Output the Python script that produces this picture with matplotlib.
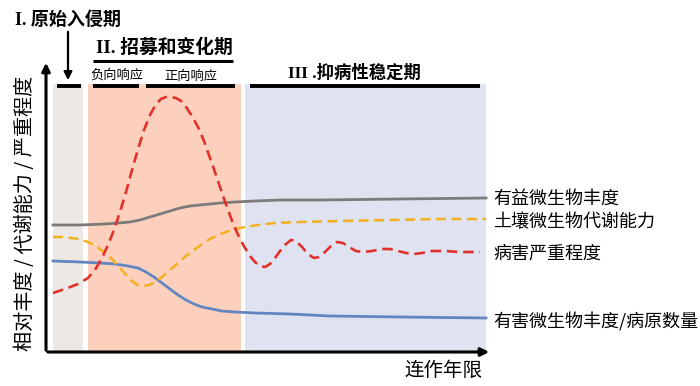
import numpy as np
import matplotlib.pyplot as plt

plt.rcParams['font.family'] = ['Noto Sans CJK SC', 'DejaVu Sans']

# curve readings (x, y in picture units: x to the right, y downward)
grey_x = [53, 80, 105, 118, 130, 140, 150, 160, 170, 180, 190, 200, 210, 220, 235,
          255, 280, 320, 400, 486]
grey_y = [225, 225, 224, 223, 222, 220, 217, 214, 211, 208, 206, 205, 204, 203, 202,
          201, 200, 200, 199, 198]

orange_x = [53, 65, 78, 88, 96, 104, 112, 120, 127, 133, 138, 143, 149, 155, 162,
            170, 178, 186, 194, 202, 210, 218, 226, 235, 245, 258, 275, 300, 340,
            390, 440, 486]
orange_y = [237, 237, 239, 242, 246, 252, 259, 268, 276, 282, 285, 286, 285, 282, 277,
            270, 263, 256, 250, 244, 239, 235, 232, 229, 227, 225, 223, 222, 221,
            220, 219, 219]

red_x = [53, 65, 78, 88, 95, 102, 108, 114, 120, 126, 132, 138, 144, 150, 156,
         161, 166, 171, 176, 181, 186, 192, 198, 204, 210, 216, 222, 228, 234, 240,
         245, 250, 255, 260, 265, 270, 275, 280, 286, 291, 296, 302, 308, 314,
         319, 325, 331, 337, 343, 349, 356, 363, 372, 382, 390, 398, 406, 414,
         422, 432, 445, 460, 480]
red_y = [293, 289, 284, 278, 270, 258, 245, 230, 212, 192, 170, 149, 130, 115, 104,
         99, 97, 97, 98, 101, 107, 116, 127, 141, 158, 175, 193, 210, 226, 239,
         248, 256, 262, 266, 267, 264, 258, 251, 244, 240, 241, 247, 254, 258,
         257, 252, 246, 242, 243, 247, 251, 252, 251, 249, 249, 251, 253, 254,
         253, 251, 251, 252, 252]

blue_x = [53, 80, 100, 115, 128, 138, 146, 154, 162, 170, 178, 186, 194, 202, 212,
          222, 235, 255, 290, 330, 400, 486]
blue_y = [261, 262, 263, 264, 266, 268, 272, 277, 283, 289, 295, 300, 304, 307, 309,
          311, 312, 313, 314, 316, 317, 318]

# stage spans (x start, width)
stage_x = [53, 88, 245]
stage_w = [30, 153, 241]
stage_colors = ['#ece8e4', '#fcd0bd', '#dfe2f0']

# black bars above stages
bar_x0 = [57, 93, 146, 250]
bar_x1 = [81, 139, 235, 480]

labels_right = ['有益微生物丰度', '土壤微生物代谢能力', '病害严重程度', '有害微生物丰度/病原数量']
labels_y = [199, 222, 253, 322]

fig = plt.figure(figsize=(7, 3.86), dpi=100)
ax = fig.add_axes([0, 0, 1, 1])
ax.set_xlim(0, 700)
ax.set_ylim(386, 0)
ax.axis('off')

ax.bar(stage_x, [352 - 84] * 3, width=stage_w, bottom=84, align='edge',
       color=stage_colors, zorder=1)

ax.plot(grey_x, grey_y, color='#7d7b7a', lw=2, zorder=3)
ax.plot(blue_x, blue_y, color='#6385c2', lw=2, zorder=3)
ax.plot(orange_x, orange_y, color='#f3b021', lw=1.8, dashes=(4, 2.2), zorder=3)
ax.plot(red_x, red_y, color='#e2302a', lw=1.9, dashes=(4, 2.2), zorder=4)

# axes arrows
ax.annotate('', xy=(46, 60), xytext=(46, 353),
            arrowprops=dict(arrowstyle='-|>', lw=2.2, color='black', mutation_scale=12))
ax.annotate('', xy=(492, 352), xytext=(45, 352),
            arrowprops=dict(arrowstyle='-|>', lw=2.2, color='black', mutation_scale=12))

for x0, x1 in zip(bar_x0, bar_x1):
    ax.plot([x0, x1], [86, 86], color='black', lw=2.8, solid_capstyle='butt')
ax.plot([93, 233], [61, 61], color='black', lw=2.2, solid_capstyle='butt')

ax.annotate('', xy=(68, 83), xytext=(68, 29),
            arrowprops=dict(arrowstyle='-|>', lw=1.6, color='black', mutation_scale=12))

serif_cjk = ['Liberation Serif', 'Noto Sans CJK SC']
ax.text(15, 20, 'I. 原始入侵期', fontsize=13, fontweight='bold', family=serif_cjk,
        va='center', ha='left')
ax.text(96, 48, 'II. 招募和变化期', fontsize=13.5, fontweight='bold', family=serif_cjk,
        va='center', ha='left')
ax.text(117, 75, '负向响应', fontsize=9.5, va='center', ha='center')
ax.text(191, 76, '正向响应', fontsize=9.5, va='center', ha='center')
ax.text(288, 73, 'III .抑病性稳定期', fontsize=12.5, fontweight='bold', family=serif_cjk,
        va='center', ha='left')

for lab, y in zip(labels_right, labels_y):
    ax.text(493, y, lab, fontsize=13, va='center', ha='left')

ax.text(26, 213, '相对丰度 / 代谢能力 / 严重程度', fontsize=14.5, rotation=90,
        va='center', ha='center')
ax.text(443, 370, '连作年限', fontsize=14, va='center', ha='center')

fig.savefig('out.png', dpi=100)
